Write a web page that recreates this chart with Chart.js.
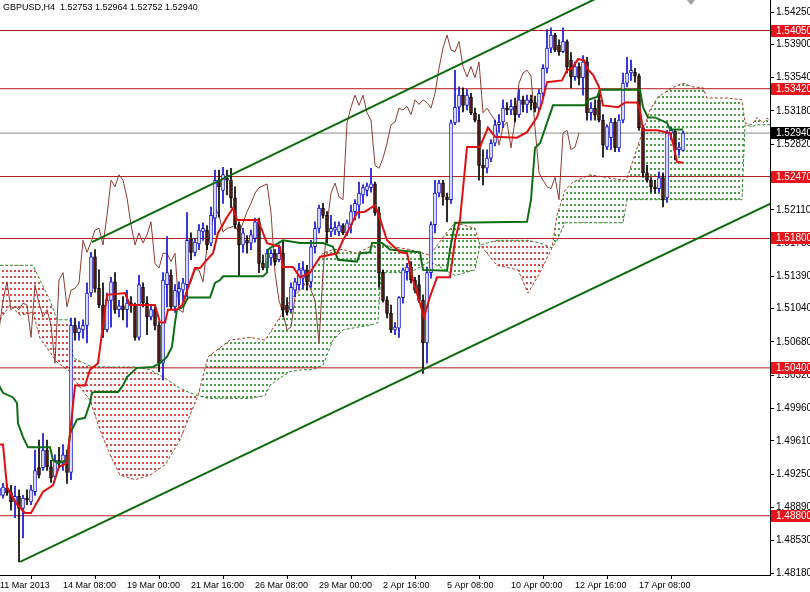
<!DOCTYPE html>
<html>
<head>
<meta charset="utf-8">
<title>GBPUSD,H4</title>
<script src="https://cdn.jsdelivr.net/npm/chart.js@4.4.1/dist/chart.umd.min.js"></script>
<style>
  html, body { margin: 0; padding: 0; background: #fff; }
</style>
</head>
<body>
<canvas id="chart" width="810" height="592"></canvas>
<script>
// H4 candles, one entry per bar (bar 0 = 11 Mar 16:00)
const openP = [1.4902,1.4902,1.4910,1.4905,1.4895,1.4901,1.4888,1.4899,1.4895,1.4906,1.4932,1.4932,1.4951,1.4933,1.4922,1.4940,1.4937,1.4946,1.4927,1.5086,
1.5078,1.5081,1.5086,1.5121,1.5160,1.5126,1.5108,1.5081,1.5113,1.5133,1.5103,1.5107,1.5103,1.5110,1.5108,1.5073,1.5127,1.5110,1.5095,1.5103,
1.5086,1.5045,1.5130,1.5140,1.5106,1.5122,1.5124,1.5130,1.5180,1.5165,1.5174,1.5187,1.5189,1.5175,1.5202,1.5243,1.5232,1.5245,1.5243,1.5224,
1.5195,1.5173,1.5178,1.5175,1.5180,1.5198,1.5153,1.5148,1.5159,1.5164,1.5157,1.5164,1.5108,1.5103,1.5124,1.5130,1.5137,1.5146,1.5133,1.5171,
1.5191,1.5213,1.5205,1.5187,1.5189,1.5187,1.5194,1.5186,1.5195,1.5209,1.5216,1.5227,1.5232,1.5235,1.5239,1.5208,1.5143,1.5113,1.5099,1.5081,
1.5083,1.5116,1.5144,1.5149,1.5135,1.5130,1.5113,1.5067,1.5143,1.5195,1.5229,1.5240,1.5225,1.5222,1.5305,1.5322,1.5335,1.5324,1.5333,1.5316,
1.5308,1.5259,1.5256,1.5267,1.5283,1.5303,1.5306,1.5321,1.5319,1.5323,1.5314,1.5330,1.5325,1.5330,1.5327,1.5321,1.5337,1.5364,1.5386,1.5400,
1.5389,1.5382,1.5393,1.5373,1.5355,1.5366,1.5354,1.5371,1.5316,1.5321,1.5330,1.5308,1.5279,1.5289,1.5306,1.5278,1.5308,1.5348,1.5359,1.5360,
1.5356,1.5300,1.5251,1.5243,1.5236,1.5234,1.5246,1.5224,1.5294,1.5296,1.5276,1.52753];
const highP = [1.4916,1.4915,1.4914,1.4913,1.4912,1.4908,1.4902,1.4908,1.4913,1.4951,1.4962,1.4969,1.4962,1.4940,1.4946,1.4954,1.4957,1.4951,1.5094,1.5094,
1.5090,1.5092,1.5132,1.5165,1.5168,1.5146,1.5132,1.5121,1.5138,1.5143,1.5113,1.5117,1.5124,1.5117,1.5110,1.5140,1.5132,1.5117,1.5108,1.5108,
1.5090,1.5143,1.5182,1.5146,1.5130,1.5133,1.5137,1.5208,1.5186,1.5180,1.5195,1.5197,1.5194,1.5214,1.5254,1.5254,1.5257,1.5254,1.5256,1.5236,
1.5198,1.5191,1.5183,1.5189,1.5202,1.5202,1.5162,1.5168,1.5168,1.5168,1.5173,1.5178,1.5116,1.5132,1.5137,1.5153,1.5155,1.5151,1.5178,1.5198,
1.5216,1.5218,1.5209,1.5205,1.5198,1.5198,1.5196,1.5200,1.5216,1.5222,1.5241,1.5238,1.5240,1.5256,1.5241,1.5214,1.5146,1.5117,1.5108,1.5089,
1.5117,1.5148,1.5153,1.5155,1.5138,1.5140,1.5119,1.5149,1.5198,1.5243,1.5243,1.5243,1.5229,1.5308,1.5362,1.5344,1.5343,1.5341,1.5337,1.5321,
1.5314,1.5276,1.5276,1.5287,1.5308,1.5314,1.5330,1.5327,1.5330,1.5332,1.5341,1.5334,1.5335,1.5335,1.5334,1.5341,1.5368,1.5406,1.5408,1.5402,
1.5395,1.5408,1.5395,1.5381,1.5371,1.5370,1.5378,1.5376,1.5327,1.5330,1.5337,1.5314,1.5303,1.5310,1.5310,1.5314,1.5359,1.5376,1.5373,1.5364,
1.5358,1.5302,1.5259,1.5246,1.5243,1.5252,1.5251,1.5297,1.5300,1.5297,1.5284,1.52964];
const lowP = [1.4897,1.4899,1.4902,1.4886,1.4878,1.4830,1.4856,1.4892,1.4892,1.4902,1.4921,1.4929,1.4929,1.4916,1.4919,1.4932,1.4929,1.4915,1.4919,1.5070,
1.5070,1.5072,1.5067,1.5117,1.5122,1.5105,1.5073,1.5079,1.5084,1.5099,1.5095,1.5092,1.5084,1.5100,1.5070,1.5070,1.5106,1.5076,1.5092,1.5081,
1.5036,1.5027,1.5106,1.5103,1.5100,1.5108,1.5113,1.5117,1.5157,1.5161,1.5168,1.5178,1.5168,1.5172,1.5184,1.5203,1.5218,1.5227,1.5213,1.5191,
1.5140,1.5165,1.5164,1.5168,1.5176,1.5143,1.5146,1.5146,1.5151,1.5151,1.5155,1.5095,1.5097,1.5100,1.5117,1.5124,1.5126,1.5124,1.5127,1.5164,
1.5186,1.5202,1.5175,1.5182,1.5184,1.5183,1.5184,1.5183,1.5186,1.5200,1.5202,1.5218,1.5226,1.5230,1.5205,1.5127,1.5111,1.5094,1.5078,1.5076,
1.5073,1.5110,1.5135,1.5132,1.5121,1.5111,1.5034,1.5045,1.5137,1.5186,1.5225,1.5216,1.5198,1.5218,1.5303,1.5306,1.5317,1.5319,1.5314,1.5306,
1.5243,1.5238,1.5251,1.5263,1.5280,1.5295,1.5300,1.5314,1.5314,1.5306,1.5311,1.5317,1.5316,1.5319,1.5317,1.5319,1.5332,1.5359,1.5381,1.5382,
1.5378,1.5381,1.5359,1.5343,1.5351,1.5346,1.5335,1.5308,1.5308,1.5308,1.5306,1.5268,1.5276,1.5276,1.5274,1.5274,1.5305,1.5344,1.5351,1.5349,
1.5297,1.5246,1.5241,1.5230,1.5229,1.5230,1.5214,1.5219,1.5287,1.5265,1.5270,1.52752];
const closeP = [1.4910,1.4911,1.4905,1.4895,1.4901,1.4888,1.4899,1.4897,1.4908,1.4929,1.4924,1.4951,1.4933,1.4921,1.4940,1.4937,1.4946,1.4927,1.5086,1.5078,
1.5083,1.5086,1.5121,1.5160,1.5126,1.5108,1.5081,1.5113,1.5133,1.5103,1.5107,1.5103,1.5110,1.5108,1.5073,1.5130,1.5110,1.5095,1.5103,1.5086,
1.5045,1.5135,1.5143,1.5106,1.5124,1.5126,1.5132,1.5178,1.5165,1.5176,1.5189,1.5191,1.5173,1.5205,1.5243,1.5236,1.5249,1.5243,1.5224,1.5195,
1.5173,1.5186,1.5175,1.5184,1.5198,1.5153,1.5148,1.5164,1.5164,1.5155,1.5164,1.5103,1.5100,1.5127,1.5133,1.5146,1.5146,1.5133,1.5171,1.5191,
1.5213,1.5205,1.5187,1.5191,1.5192,1.5194,1.5186,1.5197,1.5209,1.5218,1.5229,1.5235,1.5237,1.5239,1.5208,1.5143,1.5113,1.5099,1.5081,1.5084,
1.5116,1.5146,1.5149,1.5135,1.5124,1.5113,1.5067,1.5143,1.5195,1.5229,1.5240,1.5225,1.5222,1.5305,1.5322,1.5335,1.5324,1.5335,1.5316,1.5308,
1.5259,1.5256,1.5267,1.5283,1.5303,1.5306,1.5321,1.5319,1.5323,1.5314,1.5330,1.5325,1.5330,1.5327,1.5321,1.5337,1.5364,1.5386,1.5400,1.5384,
1.5382,1.5393,1.5366,1.5355,1.5366,1.5354,1.5371,1.5316,1.5321,1.5314,1.5308,1.5281,1.5301,1.5306,1.5278,1.5308,1.5348,1.5359,1.5362,1.5356,
1.5300,1.5251,1.5243,1.5236,1.5234,1.5246,1.5222,1.5294,1.5297,1.5276,1.5279,1.52940];

// Ichimoku lines (bar index, price)
const tenkanBar = [0,1,2,4.5,6.5,8,11,13.5,15,17,19,21.5,22.75,24.75,27,31.5,32.75,39,40.25,41.5,42.25,44.5,45.75,49,50.25,52,53.5,54.75,57,58.5,
59.5,64.75,67,70.25,71,73.5,75.25,77.75,80.25,84.5,86,87.75,89.5,91.5,94,94.75,97,100.25,102,103.5,104.75,106.25,107.75,109.5,112.75,114,115.25,117,120.25,122.25,
124,129.5,132,134.5,135.75,137,140.75,142,143.25,144.75,146.25,147,148.5,150,151,154.75,156.5,159.5,160.25,161,164.5,167.75,168.5,169.5,171];
const tenkanVal = [1.4957,1.4957,1.4911,1.4892,1.4883,1.4883,1.4906,1.4913,1.4933,1.4937,1.5021,1.5021,1.5038,1.5045,1.5119,1.5121,1.5108,1.5108,1.5089,1.5089,
1.5103,1.5103,1.5108,1.5148,1.5148,1.5157,1.5164,1.5186,1.5203,1.5213,1.5200,1.5200,1.5175,1.5171,1.5149,1.5149,1.5138,1.5143,1.5160,1.5164,
1.5178,1.5192,1.5208,1.5209,1.5216,1.5208,1.5178,1.5165,1.5164,1.5135,1.5117,1.5095,1.5117,1.5138,1.5138,1.5178,1.5200,1.5279,1.5279,1.5300,
1.5290,1.5289,1.5295,1.5311,1.5327,1.5349,1.5351,1.5362,1.5364,1.5374,1.5373,1.5364,1.5357,1.5344,1.5324,1.5322,1.5327,1.5327,1.5319,1.5297,
1.5297,1.5294,1.5283,1.5263,1.5262];

const kijunBar = [0,1,3.5,4.5,4.75,6,7.25,12.75,13.5,14.75,17,17.75,19.5,21.5,22.75,23.25,24,29.75,31,32,34.5,38.5,40.25,42,43.25,44,44.5,46,47.25,52.75,
54,55.25,56,66,67,67.25,68.25,71,75.25,81,83.5,84.75,89.5,90.25,92.75,93.25,95.75,97.75,105.25,106,112,112.75,114,132,133,134,135.25,137,138.5,146.5,
147.25,149.5,150.25,160.25,161,162.25,164,167,167.75,171];
const kijunVal = [1.5021,1.5013,1.5008,1.5002,1.4980,1.4965,1.4954,1.4954,1.4940,1.4937,1.4940,1.4969,1.4984,1.4986,1.5002,1.5013,1.5014,1.5014,1.5021,1.5030,
1.5040,1.5041,1.5045,1.5052,1.5063,1.5089,1.5103,1.5106,1.5116,1.5116,1.5132,1.5135,1.5139,1.5139,1.5143,1.5168,1.5171,1.5178,1.5175,1.5175,
1.5171,1.5157,1.5155,1.5164,1.5165,1.5175,1.5175,1.5168,1.5165,1.5146,1.5145,1.5168,1.5197,1.5198,1.5222,1.5278,1.5283,1.5305,1.5324,1.5324,
1.5330,1.5333,1.5341,1.5341,1.5322,1.5311,1.5311,1.5305,1.5298,1.5298];

const cloudBar = [0.25,2.75,5.25,8.5,10.25,12.75,14.5,17.75,18.5,22.75,25.25,27.75,30.25,34,37.75,41.5,45.25,47.75,49.75,52.25,
57.75,62.75,66.5,67.75,70.25,72.75,76,78.5,81,83.5,86,89.5,92.75,94.75,95.5,102.75,107.75,111.5,114,119,
120.25,124.5,129.75,132.25,135.25,138.25,139.5,141.5,143.5,147.75,156,157,160.25,162.75,164.75,168.25,171,173.5,176,177,
182,185.75,186.5,188.25,189.5,191,192,193];
const spanA = [1.5092,1.5108,1.5097,1.5100,1.5072,1.5057,1.5046,1.5036,1.5029,1.5005,1.4973,1.4946,1.4924,1.4919,1.4924,1.4935,1.4962,1.4989,1.5010,1.5052,
1.5070,1.5073,1.5070,1.5078,1.5095,1.5113,1.5127,1.5149,1.5164,1.5168,1.5168,1.5164,1.5171,1.5173,1.5173,1.5168,1.5162,1.5184,1.5197,1.5191,
1.5173,1.5151,1.5146,1.5121,1.5143,1.5170,1.5205,1.5232,1.5241,1.5249,1.5243,1.5245,1.5287,1.5319,1.5333,1.5343,1.5348,1.5344,1.5343,1.5332,
1.5332,1.5330,1.5305,1.5303,1.5311,1.5305,1.5310,1.5308];
const spanB = [1.5151,1.5151,1.5151,1.5151,1.5135,1.5113,1.5092,1.5092,1.5051,1.5042,1.5041,1.5041,1.5041,1.5041,1.5038,1.5029,1.5018,1.5013,1.5010,1.5007,
1.5007,1.5007,1.5010,1.5021,1.5029,1.5036,1.5038,1.5038,1.5043,1.5070,1.5081,1.5084,1.5086,1.5089,1.5143,1.5143,1.5155,1.5146,1.5140,1.5146,
1.5173,1.5178,1.5178,1.5178,1.5175,1.5170,1.5178,1.5197,1.5197,1.5197,1.5197,1.5222,1.5222,1.5222,1.5222,1.5222,1.5222,1.5222,1.5222,1.5222,
1.5222,1.5222,1.5303,1.5301,1.5303,1.5303,1.5303,1.5303];

// support / resistance levels and the channel
const levels = [1.5405, 1.5342, 1.5247, 1.5180, 1.5040, 1.4880];
const lastPrice = 1.5294;
const upperChannel = [[23.25, 1.5176], [193, 1.5531]];
const lowerChannel = [[5.25, 1.4830], [193, 1.5218]];

const yTicks = [1.48180,1.48530,1.48890,1.49250,1.49610,1.49960,1.50320,1.50680,1.51040,1.51390,1.51750,1.52110,1.52470,1.52820,1.53180,1.53540,1.53900,1.54250];
const xTickBars = [0.25, 16, 32, 48, 64, 80, 96, 112, 128, 144, 160];
const xTickText = ['11 Mar 2013','14 Mar 08:00','19 Mar 00:00','21 Mar 16:00','26 Mar 08:00','29 Mar 00:00','2 Apr 16:00','5 Apr 08:00','10 Apr 00:00','12 Apr 16:00','17 Apr 08:00'];

const title = 'GBPUSD,H4  1.52753 1.52964 1.52752 1.52940';
const FONT = '"Liberation Sans", Arial, sans-serif';
const BULL = '#1010d0';
const BEAR = '#5e1f14';

// MT4 draws the cloud as dotted vertical hatching, one column per bar
function dots(color) {
    const c = document.createElement('canvas');
    c.width = 4; c.height = 6;
    const g = c.getContext('2d');
    g.fillStyle = color;
    g.fillRect(2, 0, 2, 2);
    return g.createPattern(c, 'repeat');
}
const greenDots = dots('#4a9e4a');
const redDots = dots('#de4a4a');

const pts = (xs, ys) => xs.map((x, i) => ({x: x, y: ys[i]}));
const isBull = closeP.map((c, i) => c >= openP[i]);

const lineBase = {type: 'line', pointRadius: 0, tension: 0, fill: false, clip: 0};

const datasets = [];
// cloud: span B first so span A can fill to it
datasets.push(Object.assign({}, lineBase, {
    label: 'Senkou B', data: pts(cloudBar, spanB), borderColor: '#2f8a2f', borderWidth: 1, borderDash: [3, 2], order: 11
}));
datasets.push(Object.assign({}, lineBase, {
    label: 'Senkou A', data: pts(cloudBar, spanA), borderColor: '#a8402e', borderWidth: 1, borderDash: [3, 2], order: 12,
    fill: {target: 0, above: greenDots, below: redDots}
}));
levels.forEach(v => datasets.push(Object.assign({}, lineBase, {
    data: [{x: 0.25, y: v}, {x: 192.75, y: v}], borderColor: '#b01c1c', borderWidth: 1, order: 9
})));
datasets.push(Object.assign({}, lineBase, {
    data: [{x: 0.25, y: lastPrice}, {x: 192.75, y: lastPrice}], borderColor: '#8c8c8c', borderWidth: 1, order: 9
}));
datasets.push(Object.assign({}, lineBase, {
    label: 'Chikou', data: closeP.map((c, i) => ({x: i - 26, y: c})), borderColor: '#8e3b30', borderWidth: 1, order: 8
}));
datasets.push({
    type: 'bar', label: 'wicks', data: lowP.map((l, i) => ({x: i, y: [l, highP[i]]})),
    backgroundColor: isBull.map(b => b ? BULL : '#000'), borderWidth: 0, barThickness: 1, grouped: false, order: 6
});
datasets.push({
    type: 'bar', label: 'bodies', data: openP.map((o, i) => ({x: i, y: [o, closeP[i]]})),
    backgroundColor: isBull.map(b => b ? '#ffffff' : BEAR), borderColor: isBull.map(b => b ? BULL : '#000'),
    borderWidth: 1, borderSkipped: false, barThickness: 3, grouped: false, order: 5
});
datasets.push(Object.assign({}, lineBase, {
    label: 'Kijun', data: pts(kijunBar, kijunVal), borderColor: '#0e6e12', borderWidth: 2, order: 3
}));
datasets.push(Object.assign({}, lineBase, {
    label: 'Tenkan', data: pts(tenkanBar, tenkanVal), borderColor: '#e01010', borderWidth: 2, order: 2
}));
[upperChannel, lowerChannel].forEach(ch => datasets.push(Object.assign({}, lineBase, {
    data: ch.map(p => ({x: p[0], y: p[1]})), borderColor: '#0c6a0c', borderWidth: 2, order: 1
})));

const overlay = {
    id: 'overlay',
    afterDraw(chart) {
        const ctx = chart.ctx, y = chart.scales.y, right = chart.chartArea.right;
        ctx.save();
        ctx.font = '10px ' + FONT;
        ctx.textBaseline = 'middle';
        const box = (v, bg) => {
            const py = Math.round(y.getPixelForValue(v));
            ctx.fillStyle = bg;
            ctx.fillRect(right + 1, py - 6, 810 - right - 1, 12);
            ctx.fillStyle = '#fff';
            ctx.fillText(v.toFixed(5), right + 6, py + 0.5);
        };
        levels.forEach(v => box(v, '#e8141c'));
        box(lastPrice, '#000');
        // chart shift marker at the top
        const sx = chart.scales.x.getPixelForValue(173);
        ctx.fillStyle = '#a0a0a0';
        ctx.beginPath();
        ctx.moveTo(sx - 4, 0); ctx.lineTo(sx + 4, 0); ctx.lineTo(sx, 5); ctx.closePath();
        ctx.fill();
        ctx.fillStyle = '#000';
        ctx.font = '9px ' + FONT;
        ctx.textBaseline = 'alphabetic';
        ctx.fillText(title, 3, 10);
        ctx.restore();
    }
};

new Chart(document.getElementById('chart'), {
    type: 'line',
    data: {datasets: datasets},
    options: {
        responsive: false,
        animation: false,
        devicePixelRatio: 1,
        layout: {padding: 0},
        plugins: {legend: {display: false}, tooltip: {enabled: false}},
        scales: {
            x: {
                type: 'linear', position: 'bottom', min: 0.25, max: 192.75, offset: false,
                grid: {drawOnChartArea: false, drawTicks: true, tickLength: 4, color: '#000'},
                border: {display: true, color: '#000', width: 1},
                ticks: {
                    color: '#000', font: {size: 9, family: FONT}, align: 'start', maxRotation: 0, autoSkip: false, padding: 1,
                    callback: v => { const k = xTickBars.indexOf(v); return k < 0 ? '' : xTickText[k]; }
                },
                afterBuildTicks: s => { s.ticks = xTickBars.map(v => ({value: v})); },
                afterFit: s => { s.height = 17; s.paddingLeft = 0; s.paddingRight = 0; }
            },
            y: {
                type: 'linear', position: 'right', min: 1.48159, max: 1.5438,
                grid: {drawOnChartArea: false, drawTicks: true, tickLength: 4, color: '#000'},
                border: {display: true, color: '#000', width: 1},
                ticks: {color: '#000', font: {size: 10, family: FONT}, padding: 2, callback: v => v.toFixed(5)},
                afterBuildTicks: s => { s.ticks = yTicks.map(v => ({value: v})); },
                afterFit: s => { s.width = 40; s.paddingTop = 0; s.paddingBottom = 0; }
            }
        }
    },
    plugins: [overlay]
});
</script>
</body>
</html>
